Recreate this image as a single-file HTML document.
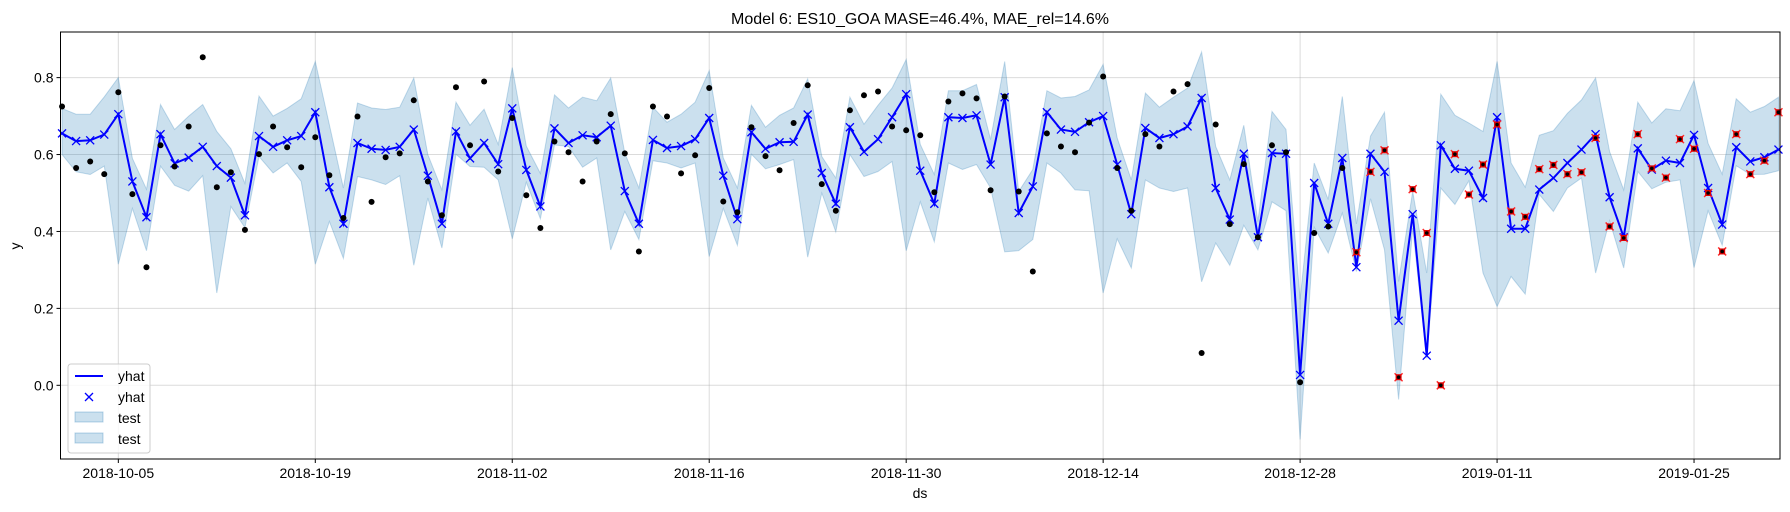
<!DOCTYPE html>
<html><head><meta charset="utf-8"><style>
html,body{margin:0;padding:0;background:#fff;}
svg{display:block;font-family:"Liberation Sans","DejaVu Sans",sans-serif;}
</style></head><body>
<svg id="chart" width="1790" height="512" viewBox="0 0 1790 512" xmlns="http://www.w3.org/2000/svg">
<text x="920" y="24" text-anchor="middle" font-size="16" fill="#000">Model 6: ES10_GOA MASE=46.4%, MAE_rel=14.6%</text>
<text x="920" y="498" text-anchor="middle" font-size="14">ds</text>
<text x="20" y="246" text-anchor="middle" font-size="14" transform="rotate(-90 20 246)">y</text>
<g id="grid"></g><g id="band"></g><g id="line"></g><g id="pts"></g><g id="axes"></g>
<g transform="translate(68,364)">
<rect x="0" y="0" width="82" height="89" rx="3" fill="#fff" fill-opacity="0.8" stroke="#ccc"/>
<line x1="7" y1="12" x2="35" y2="12" stroke="#0000ff" stroke-width="2"/>
<text x="50" y="17" font-size="14">yhat</text>
<path d="M17,29 l8,8 M25,29 l-8,8" stroke="#0000ff" stroke-width="1.3"/>
<text x="50" y="38" font-size="14">yhat</text>
<rect x="7" y="48" width="28" height="10" fill="rgba(31,119,180,0.23)" stroke="rgba(31,119,180,0.3)"/>
<text x="50" y="59" font-size="14">test</text>
<rect x="7" y="69" width="28" height="10" fill="rgba(31,119,180,0.23)" stroke="rgba(31,119,180,0.3)"/>
<text x="50" y="80" font-size="14">test</text>
</g>
</svg>
<script>
const yhat=[0.655,0.635,0.637,0.652,0.705,0.53,0.437,0.653,0.577,0.592,0.62,0.57,0.54,0.442,0.648,0.62,0.637,0.648,
0.71,0.515,0.42,0.63,0.615,0.612,0.62,0.665,0.545,0.42,0.66,0.59,0.63,0.575,0.72,0.56,0.465,
0.668,0.63,0.65,0.645,0.675,0.505,0.42,0.638,0.617,0.622,0.64,0.695,0.545,0.432,0.658,0.615,0.632,0.633,
0.704,0.552,0.472,0.671,0.607,0.64,0.697,0.757,0.558,0.472,0.697,0.695,0.702,0.574,0.749,0.448,0.517,0.71,
0.665,0.659,0.684,0.7,0.574,0.445,0.669,0.643,0.653,0.673,0.747,0.513,0.431,0.602,0.385,0.604,0.602,
0.027,0.526,0.42,0.591,0.307,0.602,0.555,0.168,0.445,0.077,0.624,0.563,0.558,0.487,0.697,0.407,0.407,
0.509,0.539,0.578,0.613,0.653,0.489,0.385,0.616,0.561,0.584,0.578,0.651,0.513,0.418,0.619,0.582,0.593,0.613];
const upper=[0.72,0.705,0.705,0.75,0.80,0.59,0.51,0.73,0.665,0.70,0.73,0.66,0.615,0.525,0.752,0.70,0.72,0.745,
0.842,0.677,0.513,0.734,0.721,0.717,0.723,0.799,0.60,0.508,0.736,0.676,0.718,0.626,0.826,0.622,0.551,
0.755,0.721,0.749,0.74,0.799,0.604,0.513,0.723,0.684,0.705,0.736,0.818,0.591,0.513,0.728,0.671,0.702,0.721,
0.797,0.595,0.539,0.749,0.679,0.728,0.773,0.847,0.626,0.548,0.766,0.766,0.782,0.639,0.842,0.504,0.561,0.766,
0.747,0.751,0.768,0.834,0.643,0.534,0.76,0.723,0.749,0.773,0.867,0.621,0.534,0.676,0.426,0.712,0.665,
0.223,0.578,0.483,0.751,0.42,0.648,0.71,0.27,0.504,0.292,0.757,0.702,0.682,0.66,0.842,0.578,0.515,
0.65,0.662,0.707,0.742,0.799,0.608,0.508,0.736,0.682,0.719,0.714,0.792,0.629,0.549,0.745,0.71,0.725,0.749];
const lower=[0.60,0.555,0.548,0.57,0.315,0.46,0.35,0.57,0.52,0.505,0.545,0.24,0.465,0.41,0.595,0.552,0.578,0.53,
0.315,0.426,0.33,0.543,0.534,0.522,0.545,0.312,0.487,0.357,0.601,0.569,0.567,0.534,0.381,0.528,0.433,
0.625,0.621,0.567,0.591,0.352,0.452,0.379,0.584,0.578,0.565,0.578,0.335,0.46,0.364,0.601,0.563,0.574,0.587,
0.333,0.5,0.399,0.6,0.543,0.556,0.582,0.35,0.477,0.373,0.578,0.561,0.574,0.513,0.347,0.35,0.379,0.578,
0.552,0.508,0.506,0.24,0.381,0.305,0.534,0.513,0.504,0.513,0.269,0.37,0.312,0.416,0.352,0.477,0.454,
-0.141,0.411,0.344,0.448,0.296,0.485,0.352,-0.037,0.409,0.07,0.513,0.47,0.532,0.292,0.205,0.283,0.237,
0.496,0.452,0.513,0.539,0.292,0.428,0.305,0.556,0.511,0.528,0.534,0.306,0.454,0.364,0.571,0.548,0.549,0.558];
const actual=[0.725,0.565,0.582,0.549,0.762,0.497,0.307,0.624,0.569,0.673,0.853,0.515,0.554,0.404,0.601,0.673,0.619,0.567,
0.645,0.546,0.435,0.699,0.477,0.593,0.603,0.741,0.53,0.442,0.775,0.624,0.79,0.556,0.695,0.494,0.409,
0.634,0.606,0.53,0.634,0.705,0.603,0.348,0.725,0.699,0.551,0.598,0.773,0.478,0.45,0.671,0.596,0.559,0.682,
0.78,0.523,0.454,0.715,0.754,0.764,0.673,0.663,0.65,0.502,0.738,0.759,0.746,0.507,0.751,0.504,0.296,0.655,
0.621,0.606,0.683,0.803,0.565,0.454,0.653,0.621,0.764,0.783,0.084,0.678,0.419,0.575,0.385,0.624,0.606,
0.008,0.396,0.413,0.565];
const testActual=[0.346,0.555,0.611,0.021,0.51,0.396,0.0,0.601,0.496,0.574,0.678,0.452,0.438,
0.562,0.573,0.549,0.554,0.643,0.413,0.383,0.653,0.564,0.54,0.64,0.615,0.5,0.348,0.653,0.549,0.584,0.71];
const testStart=92;
const xTickLabels=["2018-10-05","2018-10-19","2018-11-02","2018-11-16","2018-11-30","2018-12-14","2018-12-28","2019-01-11","2019-01-25"];
const xTickIdx=[4,18,32,46,60,74,88,102,116];
const yTicks=[0.0,0.2,0.4,0.6,0.8];

const L=60.5,R=1780,T=32,B=459;
const X0=-0.11,X1=122.11;
const sx=i=>L+(i-X0)/(X1-X0)*(R-L);
const sy=v=>385.3-v*384.6;
const NS="http://www.w3.org/2000/svg";
function mk(tag,attrs,parent){const e=document.createElementNS(NS,tag);for(const k in attrs)e.setAttribute(k,attrs[k]);parent.appendChild(e);return e;}
const grid=document.getElementById('grid'),band=document.getElementById('band'),line=document.getElementById('line'),pts=document.getElementById('pts'),axes=document.getElementById('axes');
yTicks.forEach(v=>{
  const g=mk('line',{x1:L,x2:R,y1:sy(v),y2:sy(v),stroke:'#b0b0b0','stroke-opacity':0.45,'stroke-width':1},grid);
  
  
  const t=mk('text',{x:L-7,y:sy(v)+5,'text-anchor':'end','font-size':14},axes);t.textContent=v.toFixed(1);
  
  
  mk('line',{x1:L-4,x2:L,y1:sy(v),y2:sy(v),stroke:'#000'},axes);
});
xTickIdx.forEach((d,k)=>{
  const x=sx(d);
  const g=mk('line',{x1:x,x2:x,y1:T,y2:B,stroke:'#b0b0b0','stroke-opacity':0.45,'stroke-width':1},grid);
  
  
  mk('line',{x1:x,x2:x,y1:B,y2:B+4,stroke:'#000'},axes);
  const t=mk('text',{x:x,y:B+19,'text-anchor':'middle','font-size':14},axes);t.textContent=xTickLabels[k];
  
  
});
let d='';
upper.forEach((v,i)=>{d+=(i?'L':'M')+sx(i).toFixed(1)+','+sy(v).toFixed(1);});
for(let i=lower.length-1;i>=0;i--)d+='L'+sx(i).toFixed(1)+','+sy(lower[i]).toFixed(1);
const bp=mk('path',{d:d+'Z',fill:'rgba(31,119,180,0.23)',stroke:'rgba(31,119,180,0.25)','stroke-width':1},band);


actual.forEach((v,i)=>{
  const c=mk('circle',{cx:sx(i),cy:sy(v),r:3,fill:'#000'},pts);
  
  
});
const lp=mk('polyline',{points:yhat.map((v,i)=>sx(i).toFixed(1)+','+sy(v).toFixed(1)).join(' '),fill:'none',stroke:'#0000ff','stroke-width':2},line);


yhat.forEach((v,i)=>{
  const x=sx(i),y=sy(v);
  const m=mk('path',{d:`M${x-4},${y-4}L${x+4},${y+4}M${x+4},${y-4}L${x-4},${y+4}`,stroke:'#0000ff','stroke-width':1.3},line);
  
  
});
testActual.forEach((v,k)=>{
  const x=sx(testStart+k),y=sy(v);
  const g=mk('g',{},pts);
  
  
  mk('path',{d:`M${x-4},${y-4}L${x+4},${y+4}M${x+4},${y-4}L${x-4},${y+4}`,stroke:'#ff3030','stroke-width':1.5},g);
  mk('rect',{x:x-3,y:y-3,width:6,height:6,fill:'#e00000'},g);
  mk('circle',{cx:x,cy:y,r:1.8,fill:'#000'},g);
});
mk('rect',{x:L,y:T,width:R-L,height:B-T,fill:'none',stroke:'#000','stroke-width':1},axes);
</script>
</body></html>
